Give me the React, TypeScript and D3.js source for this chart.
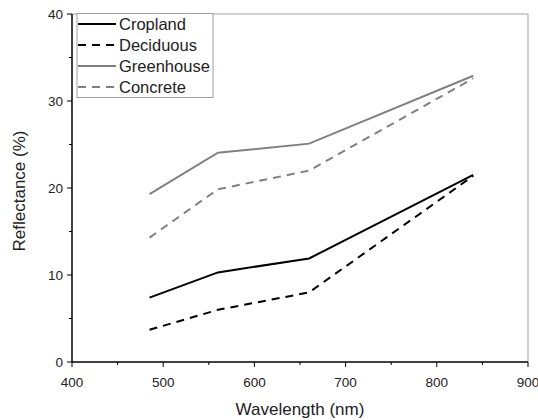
import React from "react";
import * as d3 from "d3";

const wavelengths = [485, 560, 660, 840];
const cropland = [7.4, 10.3, 11.9, 21.5];
const deciduous = [3.7, 6.0, 8.0, 21.4];
const greenhouse = [19.3, 24.05, 25.1, 32.9];
const concrete = [14.3, 19.85, 22.0, 32.6];
const xTicks = [400, 500, 600, 700, 800, 900];
const yTicks = [0, 10, 20, 30, 40];
const seriesNames = ["Cropland", "Deciduous", "Greenhouse", "Concrete"];

const W = 538, H = 420;
const L = 72, R = 528, T = 14, B = 362;

export default function App() {
  const x = d3.scaleLinear().domain([400, 900]).range([L, R]);
  const y = d3.scaleLinear().domain([0, 40]).range([B, T]);
  const line = d3.line<[number, number]>().x(d => x(d[0])).y(d => y(d[1]));
  const series = [
    { name: seriesNames[0], values: cropland, color: "#000", dash: undefined },
    { name: seriesNames[1], values: deciduous, color: "#000", dash: "8,6" },
    { name: seriesNames[2], values: greenhouse, color: "#808080", dash: undefined },
    { name: seriesNames[3], values: concrete, color: "#808080", dash: "8,6" },
  ];
  const xMinor = d3.range(450, 900, 100);
  const yMinor = d3.range(5, 40, 10);
  const font = "Arial, 'Liberation Sans', sans-serif";
  return (
    <svg width={W} height={H} style={{ position: "absolute", left: 0, top: 0 }} fontFamily={font}>
      <rect width={W} height={H} fill="#fff" />
      <line x1={L} x2={R} y1={T} y2={T} stroke="#a0a0a0" strokeWidth={1} />
      <line x1={R} x2={R} y1={T} y2={B} stroke="#a0a0a0" strokeWidth={1} />
      {series.map(s => (
        <path key={s.name} d={line(wavelengths.map((w, i) => [w, s.values[i]]) as [number, number][]) || ""}
          fill="none" stroke={s.color} strokeWidth={2} strokeDasharray={s.dash} />
      ))}
      <line x1={L} x2={R} y1={B} y2={B} stroke="#000" strokeWidth={1.5} />
      <line x1={L} x2={L} y1={T} y2={B} stroke="#000" strokeWidth={1.5} />
      {xTicks.map(t => (
        <g key={t}>
          <line x1={x(t)} x2={x(t)} y1={B} y2={B + 5} stroke="#000" strokeWidth={1} />
          <text x={x(t)} y={B + 25} fontSize={13.5} textAnchor="middle" fill="#222">{t}</text>
        </g>
      ))}
      {xMinor.map(t => (
        <line key={t} x1={x(t)} x2={x(t)} y1={B} y2={B + 3} stroke="#000" strokeWidth={1} />
      ))}
      {yTicks.map(t => (
        <g key={t}>
          <line x1={L - 5} x2={L} y1={y(t)} y2={y(t)} stroke="#000" strokeWidth={1} />
          <text x={L - 9} y={y(t) + 5} fontSize={13.5} textAnchor="end" fill="#222">{t}</text>
        </g>
      ))}
      {yMinor.map(t => (
        <line key={t} x1={L - 3} x2={L} y1={y(t)} y2={y(t)} stroke="#000" strokeWidth={1} />
      ))}
      <text x={(L + R) / 2} y={415} fontSize={17} textAnchor="middle" fill="#222">Wavelength (nm)</text>
      <text transform={`translate(25,191) rotate(-90)`} fontSize={17} textAnchor="middle" fill="#222">Reflectance (%)</text>
      <rect x={77} y={13.5} width={136} height={84} fill="#fff" stroke="#a0a0a0" strokeWidth={1} />
      {series.map((s, i) => (
        <g key={s.name}>
          <line x1={78} x2={116} y1={24 + i * 21} y2={24 + i * 21} stroke={s.color} strokeWidth={2} strokeDasharray={s.dash} />
          <text x={119} y={30 + i * 21} fontSize={16.5} fill="#222">{s.name}</text>
        </g>
      ))}
    </svg>
  );
}
